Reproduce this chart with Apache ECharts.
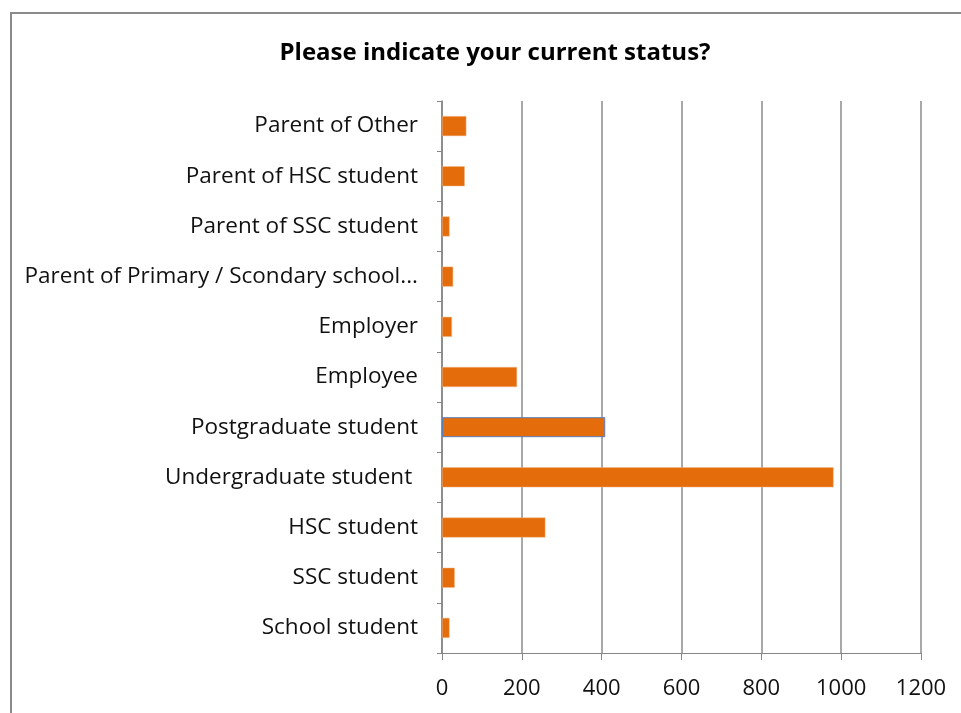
<!DOCTYPE html>
<html>
<head>
<meta charset="utf-8">
<script src="https://cdn.jsdelivr.net/npm/echarts@6/dist/echarts.min.js"></script>
<style>
  html, body { margin: 0; padding: 0; background: #fff; }
  #chart { width: 961px; height: 713px; }
</style>
</head>
<body>
<div id="chart"></div>
<script>
// 数据（从下到上）
const categories = [
  'School student',
  'SSC student',
  'HSC student',
  'Undergraduate student ',
  'Postgraduate student',
  'Employee',
  'Employer',
  'Parent of Primary / Scondary school...',
  'Parent of SSC student',
  'Parent of HSC student',
  'Parent of Other'
];
const counts = [19, 32, 259, 981, 409, 188, 25, 28, 19, 57, 61];
const xTicks = [0, 1200, 200]; // min, max, interval
const titleText = 'Please indicate your current status?';

const FONT = '"Open Sans"';

const chart = echarts.init(document.getElementById('chart'));

const option = {
  backgroundColor: '#fff',
  animation: false,
  graphic: [{
    type: 'rect',
    shape: { x: 11, y: 13, width: 1000, height: 800 },
    style: { fill: 'none', stroke: '#8a8a8a', lineWidth: 2 },
    silent: true
  }, {
    // 标题
    type: 'text',
    x: 495,
    y: 53,
    style: {
      text: titleText,
      align: 'center',
      verticalAlign: 'middle',
      fontFamily: FONT,
      fontSize: 24,
      fontWeight: 'bold',
      fill: '#000'
    },
    silent: true
  }],
  grid: { left: 442, right: 40, top: 101, bottom: 60, containLabel: false },
  xAxis: {
    type: 'value',
    min: xTicks[0],
    max: xTicks[1],
    interval: xTicks[2],
    axisLine: { show: true, lineStyle: { color: '#868686', width: 1 } },
    axisTick: { show: true, length: 7, lineStyle: { color: '#868686' } },
    axisLabel: {
      margin: 25,
      fontFamily: FONT,
      fontSize: 22,
      color: '#111',
      formatter: function (v) { return String(v); }
    },
    splitLine: { show: true, lineStyle: { color: '#8c8c8c', width: 1.5 } }
  },
  yAxis: {
    type: 'category',
    data: categories,
    axisLine: { show: true, lineStyle: { color: '#868686', width: 1.5 } },
    axisTick: { show: true, length: 5, alignWithLabel: false, lineStyle: { color: '#868686' } },
    axisLabel: { margin: 24, padding: [8, 0, 0, 0], fontFamily: FONT, fontSize: 22.5, color: '#111' },
    splitLine: { show: false }
  },
  series: [{
    type: 'bar',
    data: counts.map(function (v, i) {
      if (categories[i] === 'Postgraduate student') {
        return { value: v, itemStyle: { borderColor: '#5a7fb8', borderWidth: 1 } };
      }
      return v;
    }),
    barWidth: 20,
    itemStyle: { color: '#E46C0A', borderColor: '#f3b98c', borderWidth: 0.5 }
  }]
};

chart.setOption(option);
window.onresize = chart.resize;
</script>
</body>
</html>
